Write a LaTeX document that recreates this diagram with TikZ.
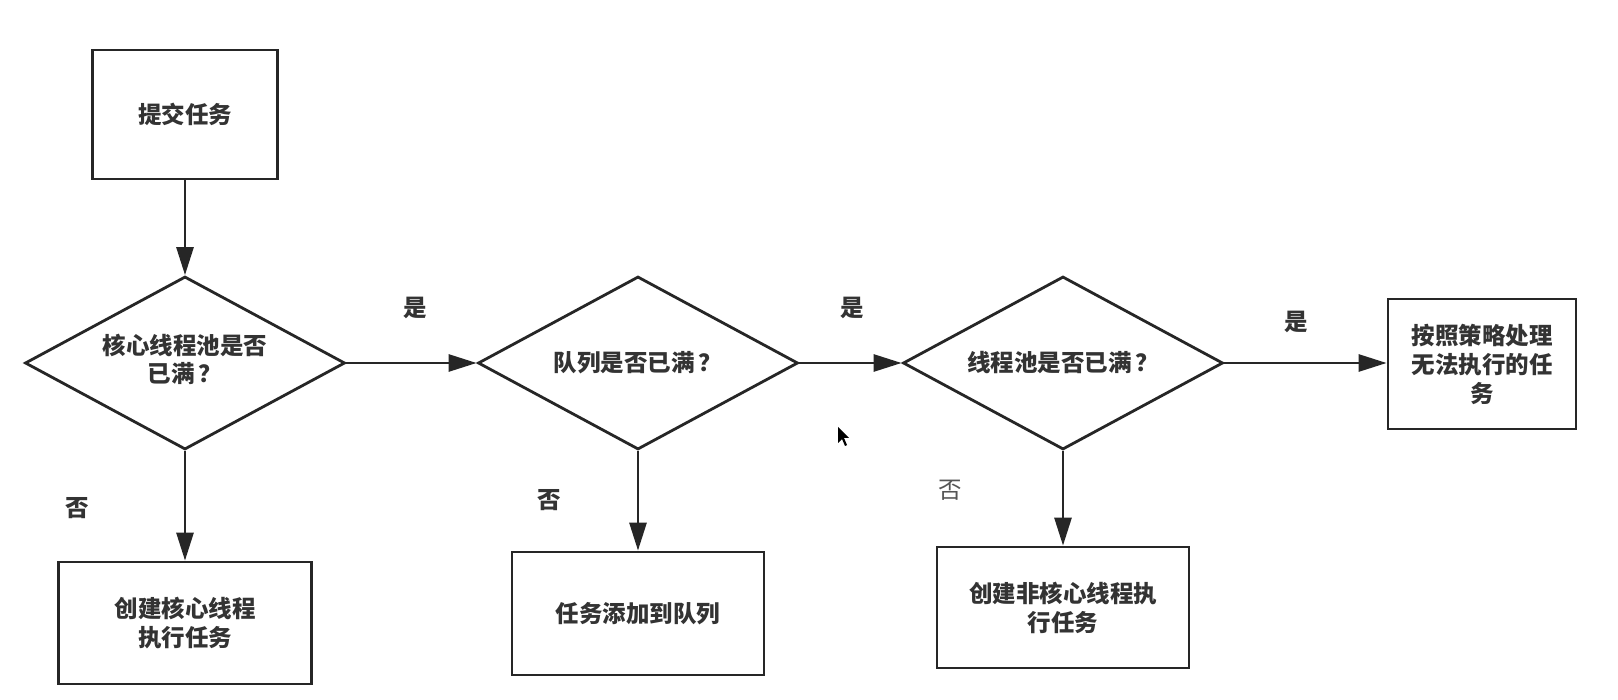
\documentclass[tikz,border=0pt]{standalone}
\usepackage{fontspec}
\setmainfont{Noto Sans CJK SC}
\usetikzlibrary{shapes.geometric,arrows.meta}
\definecolor{lc}{HTML}{262626}
\definecolor{tc}{HTML}{333333}
\definecolor{tl}{HTML}{555555}
\newcommand{\txtfont}{\fontsize{23.5}{29}\selectfont\bfseries}
\newcommand{\lightfont}{\fontsize{23.5}{29}\selectfont}
\newcommand{\qm}{\hspace{4pt}？}
\begin{document}
\begin{tikzpicture}[x=1pt,y=-1pt,
  box/.style={draw=lc, line width=2.8pt, rectangle, inner sep=0pt, align=center, text=tc, font=\txtfont},
  dia/.style={draw=lc, line width=2.8pt, diamond, aspect=1.85, minimum width=320pt, minimum height=173pt, inner sep=0pt, align=center, text=tc, font=\txtfont},
  arr/.style={draw=lc, line width=2.8pt, -{Triangle[length=28pt,width=17pt]}},
  lab/.style={text=tc, font=\txtfont, inner sep=0pt},
  labl/.style={text=tl, font=\lightfont, inner sep=0pt}
]
\useasboundingbox[fill=white] (0,0) rectangle (1618,700);

\node[box, minimum width=185pt, minimum height=129pt] (b1) at (185,114.5) {提交任务};
\node[dia] (d1) at (185,363) {\raisebox{-4pt}{\begin{tabular}{@{}c@{}}核心线程池是否\\[-1pt]已满\qm\end{tabular}}};
\node[box, minimum width=253pt, minimum height=122pt] (b2) at (185,623) {创建核心线程\\执行任务};
\node[dia] (d2) at (638,363) {\raisebox{-4pt}{队列是否已满\qm}};
\node[box, minimum width=252pt, minimum height=123pt] (b3) at (638,613.5) {任务添加到队列};
\node[dia] (d3) at (1063,363) {\raisebox{-4pt}{线程池是否已满\qm}};
\node[box, minimum width=252pt, minimum height=121pt] (b4) at (1063,607.5) {创建非核心线程执\\行任务};
\node[box, minimum width=188pt, minimum height=130pt] (b5) at (1482,364) {按照策略处理\\无法执行的任\\务};

\draw[arr] (b1) -- (d1);
\draw[arr] (d1) -- (b2);
\draw[arr] (d1) -- (d2);
\draw[arr] (d2) -- (b3);
\draw[arr] (d2) -- (d3);
\draw[arr] (d3) -- (b4);
\draw[arr] (d3.east) -- (d3.east -| b5.west);

\node[lab] (y1) at (415,308) {是};
\node[lab] (y2) at (852,308) {是};
\node[lab] (y3) at (1296,322) {是};
\node[lab] (n1) at (77,508) {否};
\node[lab] (n2) at (549,500) {否};
\node[labl] (n3) at (950,490) {否};

\fill[black] (838,427) -- (838,443) -- (842,439) -- (845,446) -- (847,445) -- (844,438) -- (849,438) -- cycle;
\end{tikzpicture}
\end{document}
